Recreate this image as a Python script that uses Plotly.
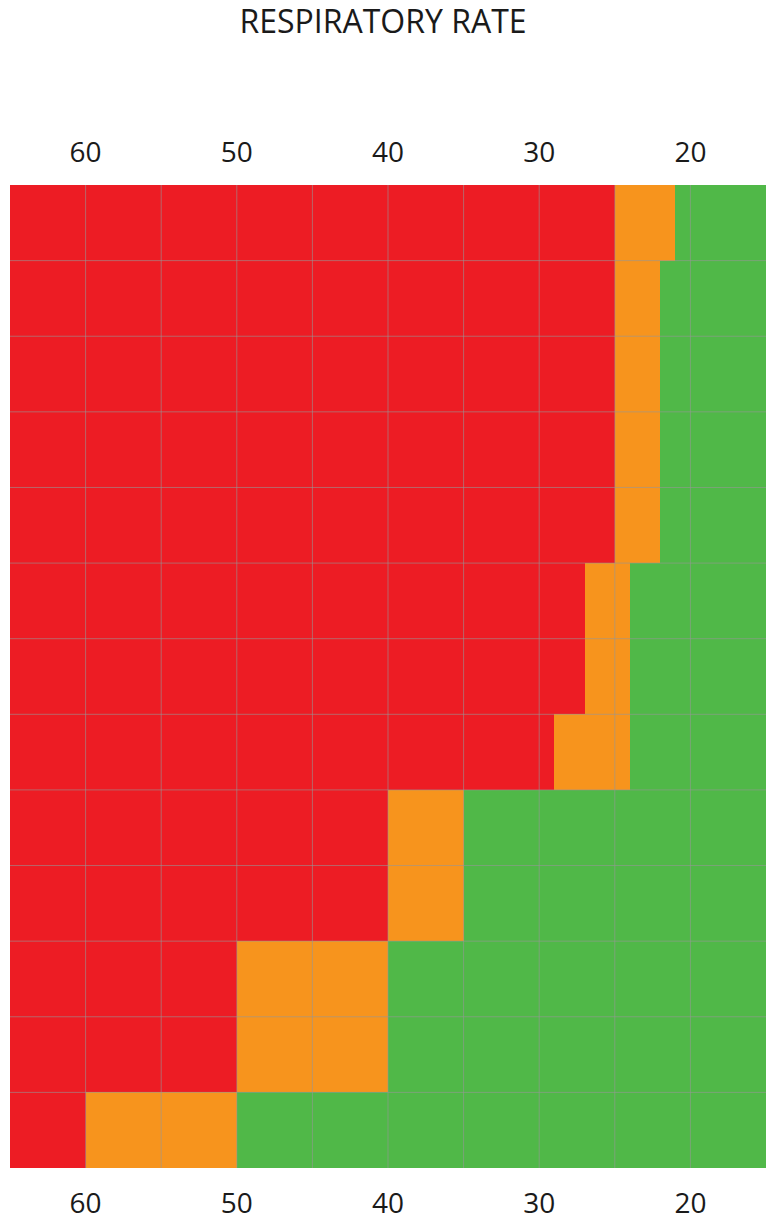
import plotly.graph_objects as go

# Rows (top to bottom), value boundaries along the respiratory-rate axis
rows = list(range(1, 14))
axis_max = 65
axis_min = 15
red_lower = [25, 25, 25, 25, 25, 27, 27, 29, 40, 40, 50, 50, 60]     # red spans axis_max -> red_lower
orange_lower = [21, 22, 22, 22, 22, 24, 24, 24, 35, 35, 40, 40, 50]  # orange spans red_lower -> orange_lower
tick_vals = [60, 50, 40, 30, 20]
tick_text = ["60", "50", "40", "30", "20"]
grid_x = [20, 25, 30, 35, 40, 45, 50, 55, 60]

RED = "#ED1C24"
ORANGE = "#F7941D"
GREEN = "#50B848"

fig = go.Figure()

fig.add_trace(go.Bar(
    y=rows, x=[axis_max - r for r in red_lower], base=red_lower,
    orientation="h", width=1, marker=dict(color=RED, line=dict(width=0)),
    hoverinfo="skip", showlegend=False))
fig.add_trace(go.Bar(
    y=rows, x=[r - o for r, o in zip(red_lower, orange_lower)], base=orange_lower,
    orientation="h", width=1, marker=dict(color=ORANGE, line=dict(width=0)),
    hoverinfo="skip", showlegend=False))
fig.add_trace(go.Bar(
    y=rows, x=[o - axis_min for o in orange_lower], base=[axis_min] * len(rows),
    orientation="h", width=1, marker=dict(color=GREEN, line=dict(width=0)),
    hoverinfo="skip", showlegend=False))

# grid lines drawn on top of the cells
gx, gy = [], []
for v in grid_x:
    gx += [v, v, None]
    gy += [rows[0] - 0.5, rows[-1] + 0.5, None]
for r in rows[:-1]:
    gx += [axis_max, axis_min, None]
    gy += [r + 0.5, r + 0.5, None]
fig.add_trace(go.Scatter(
    x=gx, y=gy, mode="lines", xaxis="x2",
    line=dict(color="rgba(150,150,150,0.6)", width=1),
    hoverinfo="skip", showlegend=False))

tickfont = dict(family="Open Sans, sans-serif", size=28, color="#1a1a1a")

fig.update_layout(
    width=766, height=1224,
    margin=dict(l=10, r=0, t=185, b=56),
    paper_bgcolor="white", plot_bgcolor="white",
    barmode="overlay", bargap=0,
    title=dict(text="RESPIRATORY RATE", x=0.5, xanchor="center",
               yref="container", y=1 - 22 / 1224, yanchor="middle",
               font=dict(family="Open Sans, sans-serif", size=32, color="#1a1a1a")),
    xaxis=dict(range=[axis_max, axis_min], tickvals=tick_vals, ticktext=tick_text,
               showgrid=False, zeroline=False, showline=False, ticks="",
               tickfont=tickfont, side="bottom", ticklabelstandoff=16),
    xaxis2=dict(range=[axis_max, axis_min], tickvals=tick_vals, ticktext=tick_text,
                showgrid=False, zeroline=False, showline=False, ticks="",
                tickfont=tickfont, side="top", overlaying="x", matches="x",
                ticklabelstandoff=16),
    yaxis=dict(range=[rows[-1] + 0.5, rows[0] - 0.5], showticklabels=False,
               showgrid=False, zeroline=False, showline=False, ticks=""),
)

fig.write_html(
    "out.html",
    config={"displayModeBar": False},
    post_script="document.body.style.margin='0';document.body.style.overflow='hidden';",
)
